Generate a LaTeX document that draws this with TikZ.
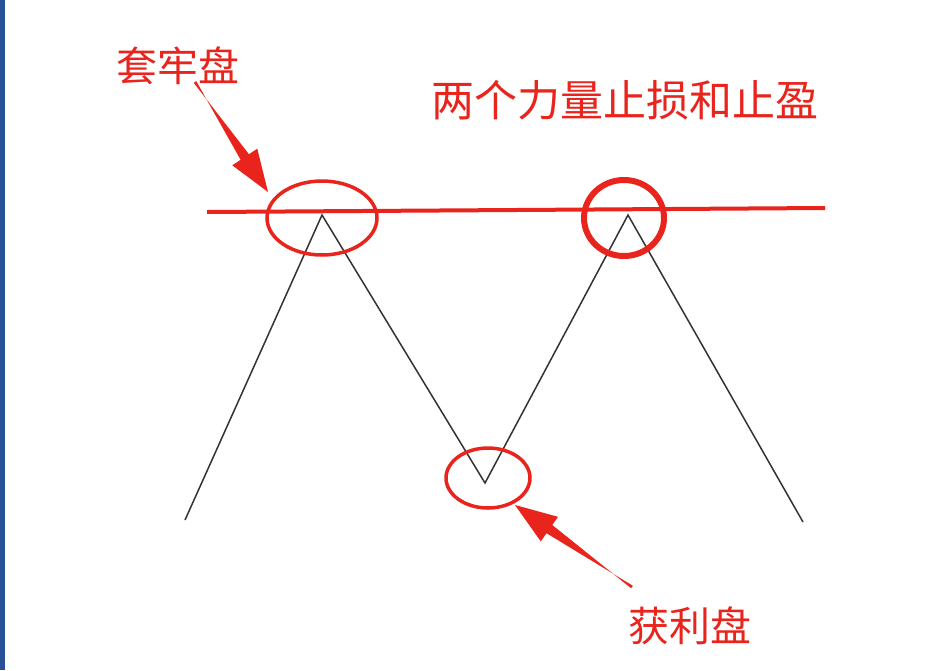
\documentclass[tikz,border=0pt]{standalone}
\usetikzlibrary{calc}
\usepackage{fontspec}
\newfontfamily\cjk{Noto Sans CJK SC}
\definecolor{rd}{RGB}{232,36,28}
\definecolor{edge}{RGB}{40,80,150}
\tikzset{
  lbl/.style={text=rd,font=\cjk\fontsize{41}{44}\selectfont,inner sep=0pt},
  ring/.style={draw=rd,line width=3.5pt},
  wedge/.style={fill=rd,draw=none}
}
\newcommand{\wedgearrow}[2]{%
  \coordinate (wT) at #1; \coordinate (wH) at #2;
  \coordinate (wB) at ($(wH)!42pt!(wT)$);
  \fill[wedge] ($(wT)!1.5pt!90:(wH)$) -- ($(wB)!5pt!-90:(wH)$) -- ($(wB)!15pt!-90:(wH)$) -- (wH)
    -- ($(wB)!15pt!90:(wH)$) -- ($(wB)!5pt!90:(wH)$) -- ($(wT)!1.5pt!-90:(wH)$) -- cycle;}
\begin{document}
\begin{tikzpicture}[x=1pt,y=-1pt]
\useasboundingbox[fill=white] (0,0) rectangle (948,670);
\fill[edge] (0,0) rectangle (5,670);
\coordinate (l0) at (185,520);
\coordinate (p1) at (322,215);
\coordinate (v1) at (485,483);
\coordinate (p2) at (628,215);
\coordinate (l1) at (803,522);
\draw[black!80,line width=1.5pt] (l0) -- (p1) -- (v1) -- (p2) -- (l1);
\coordinate (hA) at (207,212);
\coordinate (hB) at (825,208);
\draw[rd,line width=4pt] (hA) -- (hB);
\draw[ring] (322,218) ellipse [x radius=55,y radius=37];
\draw[ring,line width=6pt] (624,218) ellipse [x radius=40,y radius=38];
\draw[ring] (488,478) ellipse [x radius=42,y radius=30];
\node[lbl] (t1) at (178,66) {套牢盘};
\node[lbl,font=\cjk\fontsize{43}{46}\selectfont] (t2) at (625,100) {两个力量止损和止盈};
\node[lbl] (t3) at (690,626) {获利盘};
\wedgearrow{(195,82)}{(268,192)}
\wedgearrow{(632,587)}{(515,505)}
\end{tikzpicture}
\end{document}
